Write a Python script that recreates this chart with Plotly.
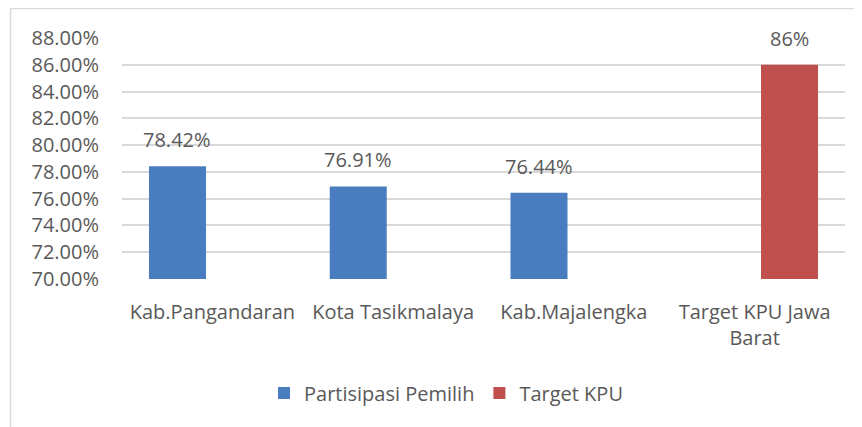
import plotly.graph_objects as go

categories = ["Kab.Pangandaran", "Kota Tasikmalaya", "Kab.Majalengka", "Target KPU Jawa<br>Barat"]
partisipasi = [78.42, 76.91, 76.44, None]
target = [None, None, None, 86.0]
partisipasi_labels = ["78.42%", "76.91%", "76.44%", None]
target_labels = [None, None, None, "86%"]
y_ticks = [70, 72, 74, 76, 78, 80, 82, 84, 86, 88]
y_tick_labels = [f"{v:.2f}%" for v in y_ticks]

FONT = "Open Sans"
GREY = "#595959"
FS = 20

# page body has an 8px margin: figure origin sits at screen (8, 8)
OFF = 8
W, H = 862 - OFF, 427 - OFF
L, R, T, B = 122 - OFF, 17, 38 - OFF, 427 - 279
pw, ph = W - L - R, H - T - B

def px(x):  # screen x -> paper x
    return (x - OFF - L) / pw

def py(y):  # screen y -> paper y
    return (H - B - (y - OFF)) / ph

fig = go.Figure()
fig.add_trace(go.Bar(name="Partisipasi Pemilih", x=categories, y=partisipasi,
                     marker=dict(color="#4a7cc0", line=dict(width=0))))
fig.add_trace(go.Bar(name="Target KPU", x=categories, y=target,
                     marker=dict(color="#c0504d", line=dict(width=0))))

annotations = []
for cat, val, lab in zip(categories, partisipasi, partisipasi_labels):
    if val is not None:
        annotations.append(dict(x=cat, y=val, text=lab, xshift=-34.9, yshift=11,
                                showarrow=False, yanchor="bottom",
                                font=dict(family=FONT, size=FS, color=GREY)))
for cat, val, lab in zip(categories, target, target_labels):
    if val is not None:
        annotations.append(dict(x=cat, y=val, text=lab, xshift=34.9, yshift=11,
                                showarrow=False, yanchor="bottom",
                                font=dict(family=FONT, size=FS, color=GREY)))

shapes = [
    dict(type="line", xref="paper", yref="paper", x0=px(10.5), x1=px(870), y0=py(8.5), y1=py(8.5),
         line=dict(color="#d9d9d9", width=1.5)),
    dict(type="line", xref="paper", yref="paper", x0=px(10.5), x1=px(10.5), y0=py(8.5), y1=py(440),
         line=dict(color="#d9d9d9", width=1.5)),
]

fig.update_layout(
    width=W, height=H,
    margin=dict(l=L, r=R, t=T, b=B),
    paper_bgcolor="white", plot_bgcolor="white",
    barmode="group", bargap=0.228, bargroupgap=0.183,
    font=dict(family=FONT, size=FS, color=GREY),
    showlegend=True,
    legend=dict(orientation="h", x=px(446), xanchor="center", y=py(393), yanchor="middle",
                font=dict(family=FONT, size=FS, color=GREY), itemwidth=30,
                traceorder="normal"),
    annotations=annotations,
    shapes=shapes,
)
fig.update_yaxes(range=[70, 88], tickvals=y_ticks, ticktext=y_tick_labels,
                 showgrid=True, gridcolor="#d9d9d9", gridwidth=1.5,
                 zeroline=False, showline=False, ticks="", ticklabelstandoff=22,
                 tickfont=dict(family=FONT, size=FS, color=GREY))
fig.update_xaxes(showline=False, ticks="", showgrid=False,
                 tickfont=dict(family=FONT, size=FS, color=GREY), ticklabelstandoff=19)

fig.write_html("out.html")
